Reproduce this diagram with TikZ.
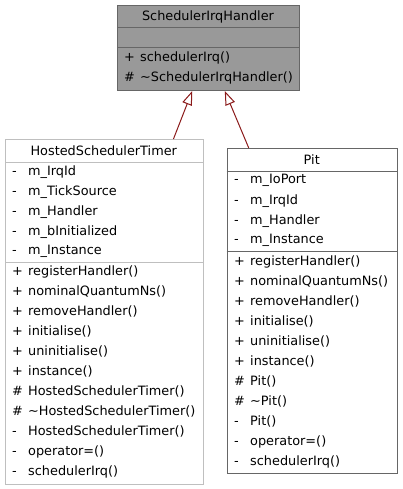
\documentclass[tikz,border=0pt]{standalone}
\usepackage{fontspec}
\setmainfont{DejaVu Sans}
\usetikzlibrary{arrows.meta}
\definecolor{basefill}{HTML}{999999}
\definecolor{darkborder}{HTML}{666666}
\definecolor{lightborder}{HTML}{BFBFBF}
\definecolor{inhcol}{HTML}{8B1A1A}
\begin{document}
\begin{tikzpicture}[x=1pt,y=-1pt,
  font=\fontsize{12.85}{15}\selectfont,
  classbox/.style={draw=#1, line width=1pt, inner sep=0pt, anchor=north west},
  title/.style={inner sep=0pt, anchor=center},
  member/.style={inner sep=0pt, anchor=west},
  sepline/.style={draw=#1, line width=1pt},
  inh/.style={draw=inhcol, line width=1pt,
    -{Triangle[open, length=14pt, width=10pt, fill=white]}}
]
\useasboundingbox (0,0) rectangle (402,489);
\newcommand{\mbr}[2]{\makebox[16pt][l]{#1}#2}

% Base class
\node[classbox=darkborder, fill=basefill, minimum width=182pt, minimum height=85pt] (base) at (117,5) {};
\node[title] (baseT) at (208,16.5) {SchedulerIrqHandler};
\draw[sepline=darkborder] (117,28) -- (299,28);
\draw[sepline=darkborder] (117,48) -- (299,48);
\node[member] (baseM1) at (124,58) {\mbr{+}{schedulerIrq()}};
\node[member] (baseM2) at (124,78) {\mbr{\#}{\textasciitilde SchedulerIrqHandler()}};

% HostedSchedulerTimer
\node[classbox=lightborder, fill=white, minimum width=197.5pt, minimum height=345pt] (hst) at (5,139) {};
\node[title] (hstT) at (103.75,150.5) {HostedSchedulerTimer};
\draw[sepline=lightborder] (5,162) -- (202.5,162);
\draw[sepline=lightborder] (5,262) -- (202.5,262);
\foreach \t [count=\i] in {m\_IrqId,m\_TickSource,m\_Handler,m\_bInitialized,m\_Instance}
  \node[member] (hstA\i) at (12,151.7+20*\i) {\mbr{-}{\t}};
\foreach \s/\t [count=\i] in {+/registerHandler(),+/nominalQuantumNs(),+/removeHandler(),+/initialise(),+/uninitialise(),+/instance(),\#/HostedSchedulerTimer(),\#/\textasciitilde HostedSchedulerTimer(),-/HostedSchedulerTimer(),-/operator=(),-/schedulerIrq()}
  \node[member] (hstM\i) at (12,251.7+20*\i) {\mbr{\s}{\t}};

% Pit
\node[classbox=darkborder, fill=white, minimum width=170.5pt, minimum height=325pt] (pit) at (226.5,148) {};
\node[title] (pitT) at (311.75,160) {Pit};
\draw[sepline=darkborder] (226.5,171) -- (397,171);
\draw[sepline=darkborder] (226.5,251.7) -- (397,251.7);
\foreach \t [count=\i] in {m\_IoPort,m\_IrqId,m\_Handler,m\_Instance}
  \node[member] (pitA\i) at (234,160.7+20*\i) {\mbr{-}{\t}};
\foreach \s/\t [count=\i] in {+/registerHandler(),+/nominalQuantumNs(),+/removeHandler(),+/initialise(),+/uninitialise(),+/instance(),\#/Pit(),\#/\textasciitilde Pit(),-/Pit(),-/operator=(),-/schedulerIrq()}
  \node[member] (pitM\i) at (234,241.7+20*\i) {\mbr{\s}{\t}};

% Inheritance
\draw[inh] ([xshift=69.2pt]hst.north) -- ([xshift=-16.3pt]base.south);
\draw[inh] ([xshift=-63.5pt]pit.north) -- ([xshift=16.3pt]base.south);
\end{tikzpicture}
\end{document}
